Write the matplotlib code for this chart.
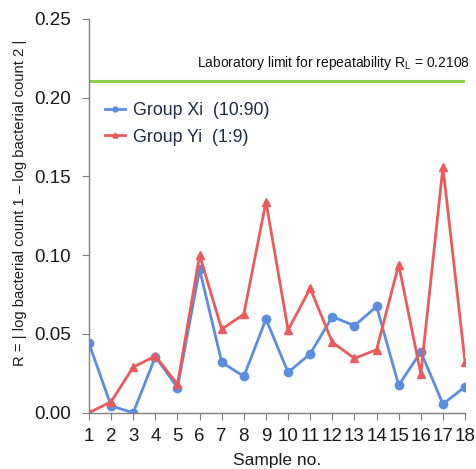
import matplotlib.pyplot as plt

plt.rcParams['font.family'] = ['Liberation Sans', 'DejaVu Sans']

samples = list(range(1, 19))
group_xi = [0.044, 0.0043, 0.000, 0.0355, 0.016, 0.091, 0.032, 0.023, 0.0595, 0.0256,
            0.0374, 0.061, 0.0552, 0.0675, 0.0174, 0.0387, 0.0055, 0.0165]
group_yi = [0.000, 0.007, 0.029, 0.036, 0.018, 0.100, 0.053, 0.0626, 0.134, 0.0525,
            0.079, 0.0447, 0.0345, 0.040, 0.094, 0.0246, 0.156, 0.032]
limit_rl = 0.2108

fig = plt.figure(figsize=(4.76, 4.69), dpi=100)
ax = fig.add_axes([0.187, 0.12, 0.79, 0.8395])

ax.axhline(limit_rl, color='#92D050', lw=2.2)
ax.text(1.013, limit_rl + 0.0055, 'Laboratory limit for repeatability R$_\\mathregular{L}$ = 0.2108',
        transform=ax.get_yaxis_transform(), ha='right', va='bottom', fontsize=10, color='#111111')

ax.plot(samples, group_xi, color='#5B8EE0', lw=2, marker='o', ms=6, label='Group Xi  (10:90)')
ax.plot(samples, group_yi, color='#EC5A5C', lw=2, marker='^', ms=6, label='Group Yi  (1:9)')

ax.set_xlim(1, 18)
ax.set_ylim(0, 0.25)
ax.set_xticks(samples)
ax.set_yticks([0, 0.05, 0.10, 0.15, 0.20, 0.25])
ax.set_yticklabels(['0.00', '0.05', '0.10', '0.15', '0.20', '0.25'])

for s in ['top', 'right']:
    ax.spines[s].set_visible(False)
for s in ['left', 'bottom']:
    ax.spines[s].set_color('#7F7F7F')
    ax.spines[s].set_linewidth(1)
ax.tick_params(axis='both', colors='#7F7F7F', labelcolor='#1A1A1A', labelsize=13.5, length=5, direction='out')
ax.tick_params(axis='x', pad=6)
ax.tick_params(axis='y', pad=8)

ax.set_xlabel('Sample no.', fontsize=12.5, color='#1A1A1A', labelpad=6)
ax.set_ylabel('R = | log bacterial count 1 – log bacterial count 2 |', fontsize=10.6, color='#1A1A1A')
ax.yaxis.set_label_coords(-0.165, 0.533)

leg = ax.legend(loc='upper left', bbox_to_anchor=(0.0, 0.83), frameon=False, fontsize=12.8,
                handlelength=1.1, markerscale=0.6, labelspacing=0.55, handletextpad=0.5)
for t in leg.get_texts():
    t.set_color('#1F2A44')

fig.savefig('out.png', dpi=100)
